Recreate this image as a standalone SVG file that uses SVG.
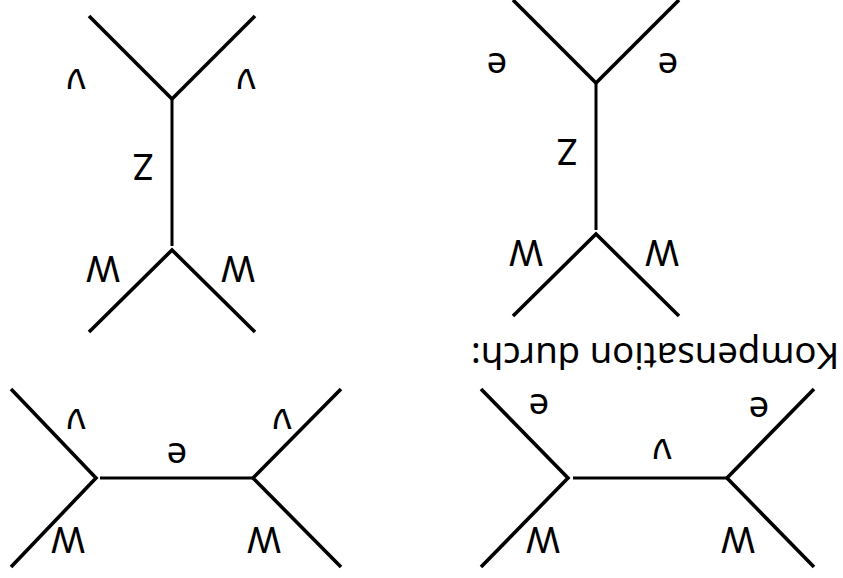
<svg xmlns="http://www.w3.org/2000/svg" width="843" height="578" viewBox="0 0 843 578">
<style>
.d{fill:none;stroke:#000;stroke-width:3.6;stroke-linejoin:miter}
.s{fill:none;stroke:#000;stroke-width:3}
.t{font-family:"Noto Sans",sans-serif;font-size:36.5px;fill:#000;text-anchor:middle}
</style>
<rect width="843" height="578" fill="#fff"/>
<g id="connectors">
<path class="d" d="M89 16L172 99L255 16M89 332L172 250L255 332"/>
<path class="s" d="M172 99V246"/>
<path class="d" d="M513 0L596 83L679 0M513 316L596 234L679 316"/>
<path class="s" d="M596 83V230"/>
<path class="d" d="M11 389L96 478L11 567M341 389L253 478L341 567"/>
<path class="s" d="M100 478H253"/>
<path class="d" d="M481 389L568 478L481 567M814 389L727 478L814 567"/>
<path class="s" d="M573 478H727"/>
</g>
<g id="label-top-left">
<text class="t" transform="rotate(180 76 69)" x="76" y="69">ν</text>
<text class="t" transform="rotate(180 246 69)" x="246" y="69">ν</text>
<text class="t" transform="rotate(180 143 154)" x="143" y="154">Z</text>
<text class="t" transform="rotate(180 103 256)" x="103" y="256">W</text>
<text class="t" transform="rotate(180 238 256)" x="238" y="256">W</text>
</g>
<g id="label-top-right">
<text class="t" transform="rotate(180 497 53)" x="497" y="53">e</text>
<text class="t" transform="rotate(180 668 53)" x="668" y="53">e</text>
<text class="t" transform="rotate(180 567 139)" x="567" y="139">Z</text>
<text class="t" transform="rotate(180 526 240)" x="526" y="240">W</text>
<text class="t" transform="rotate(180 662 240)" x="662" y="240">W</text>
</g>
<g id="label-mid"><text class="t" transform="rotate(180 655 343)" x="655" y="343">Kompensation durch:</text></g>
<g id="label-bottom-left">
<text class="t" transform="rotate(180 76 409)" x="76" y="409">ν</text>
<text class="t" transform="rotate(180 282 409)" x="282" y="409">ν</text>
<text class="t" transform="rotate(180 177 443)" x="177" y="443">e</text>
<text class="t" transform="rotate(180 68 527)" x="68" y="527">W</text>
<text class="t" transform="rotate(180 264 527)" x="264" y="527">W</text>
</g>
<g id="label-bottom-right">
<text class="t" transform="rotate(180 539 394)" x="539" y="394">e</text>
<text class="t" transform="rotate(180 759 397)" x="759" y="397">e</text>
<text class="t" transform="rotate(180 662 439)" x="662" y="439">ν</text>
<text class="t" transform="rotate(180 543 527)" x="543" y="527">W</text>
<text class="t" transform="rotate(180 738 527)" x="738" y="527">W</text>
</g>
</svg>
